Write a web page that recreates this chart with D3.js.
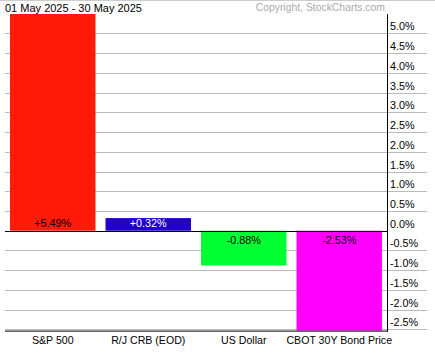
<!DOCTYPE html>
<html><head><meta charset="utf-8">
<script src="https://cdn.jsdelivr.net/npm/d3@7"></script>
<style>body{margin:0;background:#fff}svg{display:block;font-family:"Liberation Sans",Arial,sans-serif}</style>
</head><body>
<script>
const categories = ["S&P 500", "R/J CRB (EOD)", "US Dollar", "CBOT 30Y Bond Price"];
const values = [5.49, 0.32, -0.88, -2.53];
const colors = ["#ff1a0a", "#2200cc", "#00ff33", "#ff00ff"];
const labelColors = ["#000", "#fff", "#000", "#000"];
const tickValues = [5.0, 4.5, 4.0, 3.5, 3.0, 2.5, 2.0, 1.5, 1.0, 0.5, 0.0, -0.5, -1.0, -1.5, -2.0, -2.5];
const title = "01 May 2025 - 30 May 2025";
const copyright = "Copyright, StockCharts.com";

(function () {
const W = 435, H = 355;
const svg = d3.select("body").append("svg").attr("width", W).attr("height", H);
const fmt = (spec) => (v) => d3.format(spec)(v).replace("\u2212", "-");

const pL = 5, pR = 387, pT = 14, pB = 330.6;
const y = d3.scaleLinear().domain([d3.min(values), d3.max(values)]).range([pB, pT]);
const x = d3.scaleBand().domain(categories).range([pL, pR]).paddingInner(0.105).paddingOuter(0.0525);

svg.append("line").attr("x1", 0).attr("x2", W).attr("y1", 0.5).attr("y2", 0.5).attr("stroke", "#ccc");

svg.append("g").selectAll("line").data(tickValues.filter(v => v !== 0)).join("line")
  .attr("x1", pL).attr("x2", 427)
  .attr("y1", d => Math.round(y(d)) + 0.5).attr("y2", d => Math.round(y(d)) + 0.5)
  .attr("stroke", "#bbb");

svg.append("g").selectAll("text").data(tickValues).join("text")
  .attr("x", 390).attr("y", d => y(d) - 3)
  .attr("font-size", 10.8).attr("fill", "#000")
  .text(d => fmt(".1f")(d) + "%");

svg.append("g").selectAll("rect").data(values).join("rect")
  .attr("x", (d, i) => x(categories[i]))
  .attr("width", x.bandwidth())
  .attr("y", d => y(Math.max(0, d)))
  .attr("height", d => Math.abs(y(d) - y(0)))
  .attr("fill", (d, i) => colors[i]);

svg.append("g").selectAll("text").data(values).join("text")
  .attr("x", (d, i) => x(categories[i]) + x.bandwidth() / 2)
  .attr("y", d => d >= 0 ? y(0) - 4 : y(0) + 13.5)
  .attr("text-anchor", "middle").attr("font-size", 10.8)
  .attr("fill", (d, i) => labelColors[i])
  .text(d => (d >= 0 ? "+" : "") + fmt(".2f")(d) + "%");

svg.append("line").attr("x1", pL).attr("x2", pR + 1)
  .attr("y1", Math.round(y(0)) + 0.5).attr("y2", Math.round(y(0)) + 0.5)
  .attr("stroke", "#000").attr("stroke-width", 1.2);

svg.append("line").attr("x1", pL).attr("x2", pR + 1)
  .attr("y1", pB + 0.5).attr("y2", pB + 0.5).attr("stroke", "#000");

svg.append("line").attr("x1", pR + 0.5).attr("x2", pR + 0.5)
  .attr("y1", pT).attr("y2", pB + 1).attr("stroke", "#000");

svg.append("g").selectAll("text").data(categories).join("text")
  .attr("x", d => x(d) + x.bandwidth() / 2).attr("y", 343.5)
  .attr("text-anchor", "middle").attr("font-size", 10.6).attr("fill", "#000")
  .text(d => d);

svg.append("text").attr("x", 5).attr("y", 11.5).attr("font-size", 11).attr("fill", "#000").text(title);
svg.append("text").attr("x", 385).attr("y", 11).attr("text-anchor", "end")
  .attr("font-size", 10.4).attr("fill", "#aaa").text(copyright);
})();
</script>
</body></html>
